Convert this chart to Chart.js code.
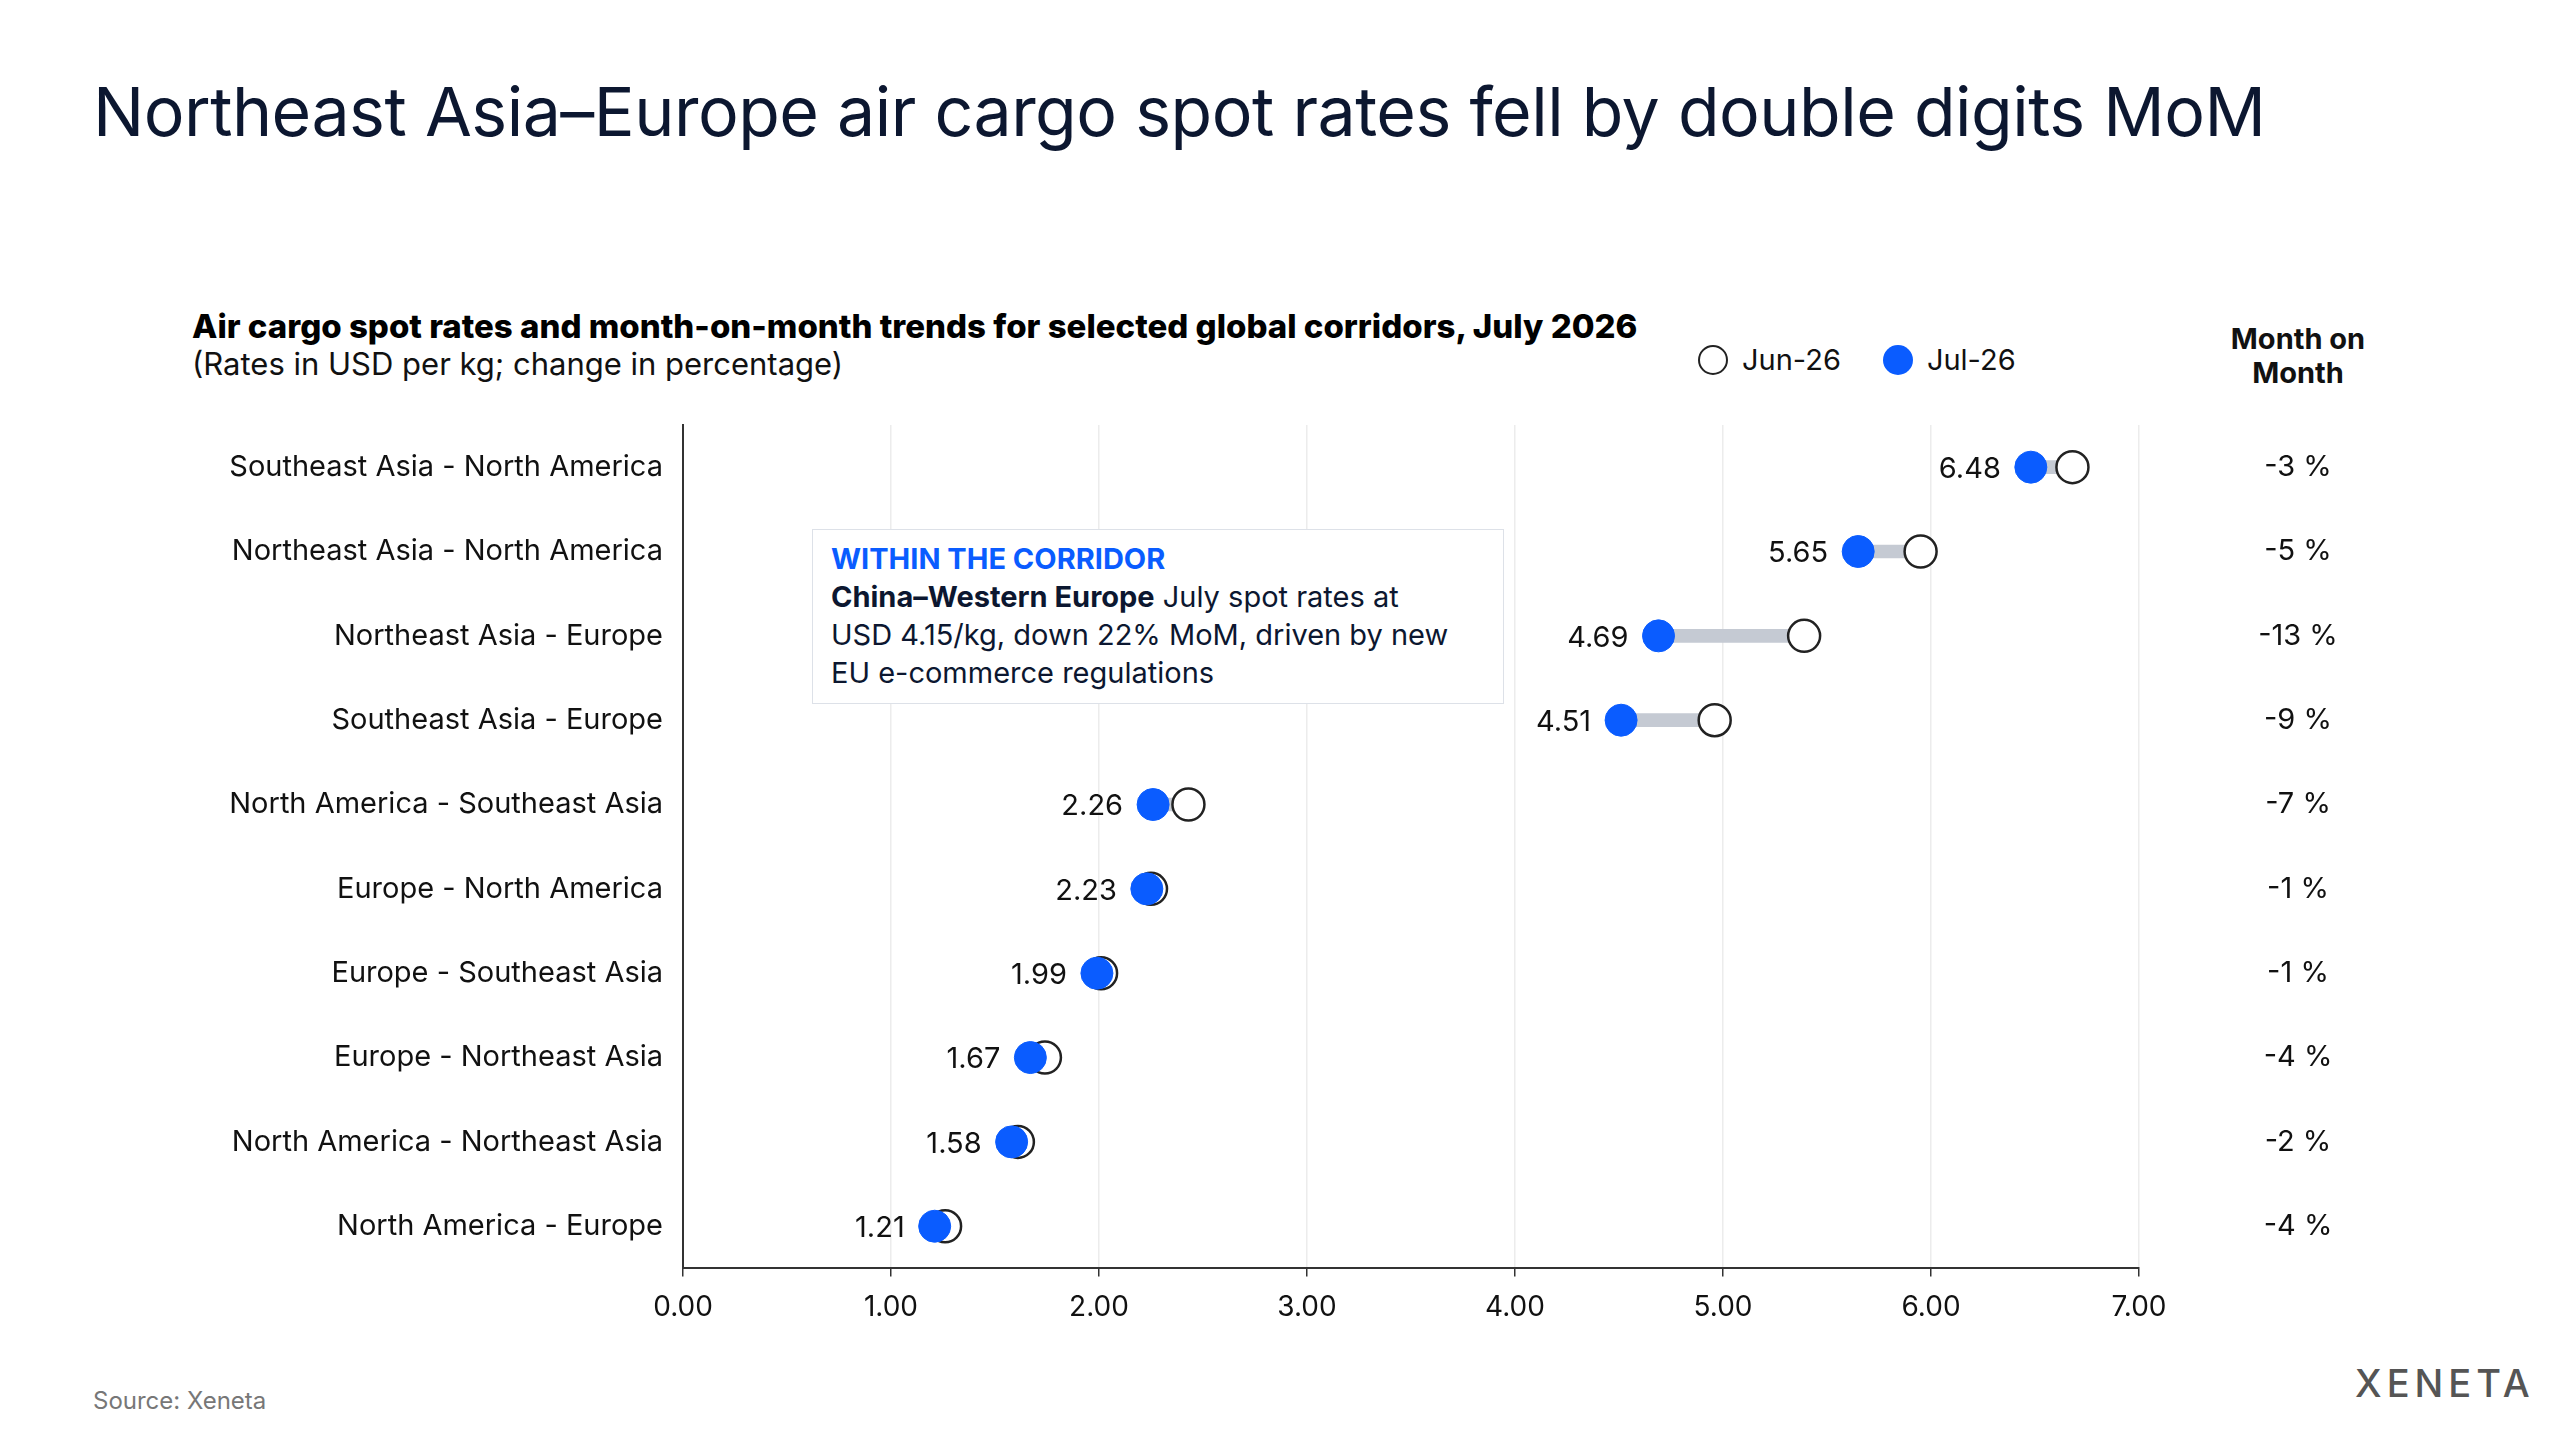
<!DOCTYPE html>
<html><head><meta charset="utf-8">
<script src="https://cdn.jsdelivr.net/npm/chart.js@4"></script>
<style>
body{margin:0;width:2560px;height:1440px;background:#fff;font-family:Inter,"Noto Sans",sans-serif;color:#111;position:relative;overflow:hidden}
.abs{position:absolute}
#title{left:93px;top:70px;font-size:68px;font-weight:400;color:#0c1730;letter-spacing:-0.5px}
#sub{left:192px;top:306px;font-size:33px;font-weight:800;color:#000}
#sub2{left:192px;top:345px;font-size:31px;color:#111}
#legend{left:1698px;top:342px;font-size:29px;display:flex;align-items:center;gap:14px}
.dot{width:30px;height:30px;border-radius:50%;display:inline-block}
#mom{left:2218px;top:322px;width:160px;text-align:center;font-size:29px;font-weight:700;line-height:34px}
#note{left:812px;top:529px;width:692px;height:175px;box-sizing:border-box;border:1px solid #dde1e8;background:#fff;padding:10px 18px;font-size:29px;line-height:38px;color:#0c1730;z-index:2;white-space:nowrap}
#src{left:93px;top:1386px;font-size:24px;color:#777}
#logo{left:2355px;top:1360px;font-size:38px;letter-spacing:5px;color:#555;font-weight:500}
#wrap{left:0;top:400px;width:2560px;height:960px}
</style></head><body>
<div id="title" class="abs">Northeast Asia–Europe air cargo spot rates fell by double digits MoM</div>
<div id="sub" class="abs">Air cargo spot rates and month-on-month trends for selected global corridors, July 2026</div>
<div id="sub2" class="abs">(Rates in USD per kg; change in percentage)</div>
<div id="legend" class="abs"><span class="dot" style="border:2.5px solid #222;box-sizing:border-box"></span>Jun-26<span style="width:14px"></span><span class="dot" style="background:#0a5cff"></span>Jul-26</div>
<div id="mom" class="abs">Month on<br>Month</div>
<div id="note" class="abs"><b style="color:#0a5cff">WITHIN THE CORRIDOR</b><br><b>China–Western Europe</b> July spot rates at<br>USD 4.15/kg, down 22% MoM, driven by new<br>EU e-commerce regulations</div>
<div id="src" class="abs">Source: Xeneta</div>
<div id="logo" class="abs">XENETA</div>
<div id="wrap" class="abs"><canvas id="c" width="2560" height="960"></canvas></div>
<script>
const corridors = ["Southeast Asia - North America","Northeast Asia - North America","Northeast Asia - Europe","Southeast Asia - Europe","North America - Southeast Asia","Europe - North America","Europe - Southeast Asia","Europe - Northeast Asia","North America - Northeast Asia","North America - Europe"];
const jun26 = [6.68,5.95,5.39,4.96,2.43,2.25,2.01,1.74,1.61,1.26];
const jul26 = [6.48,5.65,4.69,4.51,2.26,2.23,1.99,1.67,1.58,1.21];
const momLabels = ["-3 %","-5 %","-13 %","-9 %","-7 %","-1 %","-1 %","-4 %","-2 %","-4 %"];
const xTicks = [0,1,2,3,4,5,6,7];

const textPlugin = {
  id: "texts",
  afterDatasetsDraw(chart) {
    const ctx = chart.ctx, x = chart.scales.x, y = chart.scales.y;
    ctx.save();
    ctx.font = "29px Inter, 'Noto Sans', sans-serif";
    ctx.textBaseline = "middle";
    corridors.forEach((c, i) => {
      const yy = y.getPixelForValue(i);
      ctx.fillStyle = "#111";
      ctx.textAlign = "right";
      ctx.fillText(c, 663, yy);
      ctx.fillText(jul26[i].toFixed(2), x.getPixelForValue(jul26[i]) - 30, yy + 2);
      ctx.textAlign = "center";
      ctx.fillText(momLabels[i], 2298, yy);
    });
    ctx.restore();
  }
};

new Chart(document.getElementById("c"), {
  data: {
    labels: corridors,
    datasets: [
      { type: "scatter", label: "Jul-26", data: jul26.map((v, i) => ({x: v, y: i})), backgroundColor: "#0a5cff", borderColor: "#0a5cff", pointRadius: 16, order: 1 },
      { type: "scatter", label: "Jun-26", data: jun26.map((v, i) => ({x: v, y: i})), backgroundColor: "#fff", borderColor: "#222", borderWidth: 2.5, pointRadius: 16, order: 2 },
      { type: "bar", label: "gap", data: jul26.map((v, i) => [v, jun26[i]]), backgroundColor: "#c5cad3", barThickness: 13, order: 3 }
    ]
  },
  options: {
    indexAxis: "y",
    responsive: false,
    animation: false,
    layout: { padding: { left: 675, right: 421, top: 25, bottom: 22 } },
    plugins: { legend: { display: false }, tooltip: { enabled: false } },
    scales: {
      x: { type: "linear", min: 0, max: 7, afterBuildTicks: s => { s.ticks = xTicks.map(v => ({value: v})); },
        grid: { color: "#ececec", lineWidth: 1.5, drawTicks: true, tickColor: "#333", tickLength: 8 },
        border: { color: "#333", width: 2 },
        ticks: { color: "#111", font: { size: 28, family: "Inter" }, callback: v => v.toFixed(2), padding: 14 } },
      y: { type: "category", offset: true, grid: { display: false }, border: { color: "#333", width: 2 },
        ticks: { display: false } }
    }
  },
  plugins: [textPlugin]
});
</script>
</body></html>
